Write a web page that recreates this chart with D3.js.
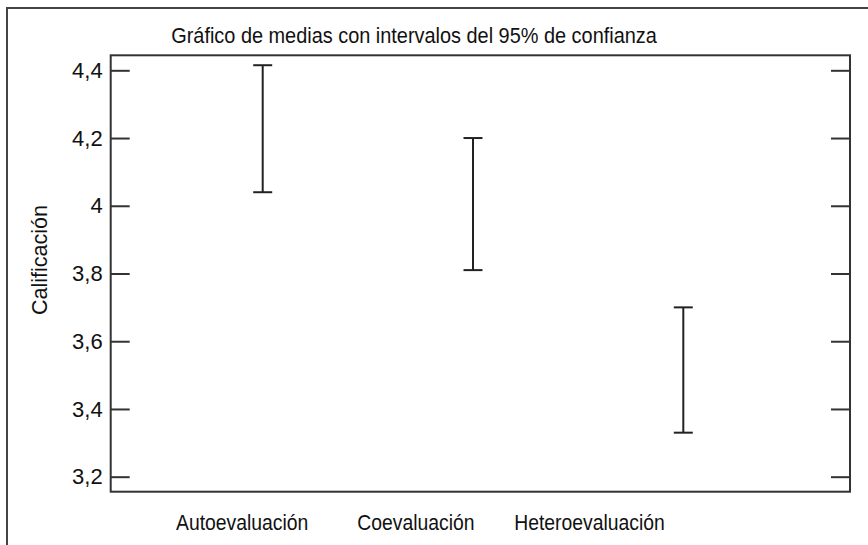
<!DOCTYPE html>
<html>
<head>
<meta charset="utf-8">
<script src="https://cdn.jsdelivr.net/npm/d3@7"></script>
<style>
  body { margin: 0; background: #fff; }
  svg text { font-family: "Liberation Sans", Arial, Helvetica, sans-serif; fill: #111; }
</style>
</head>
<body>
<svg id="chart"></svg>
<script>
// data
const categories = ["Autoevaluación", "Coevaluación", "Heteroevaluación"];
const upperValues = [4.415, 4.20, 3.70];
const lowerValues = [4.04, 3.81, 3.33];
const tickValues = [3.2, 3.4, 3.6, 3.8, 4.0, 4.2, 4.4];
const tickLabels = ["3,2", "3,4", "3,6", "3,8", "4", "4,2", "4,4"];

const width = 868;
const height = 545;
const box = { left: 110.7, right: 850, top: 55.3, bottom: 491.7 };
const fontSize = 22;

const svg = d3.select("#chart").attr("width", width).attr("height", height);

// outer frame (runs off the right and bottom edges)
svg.append("path")
  .attr("d", `M7,${height + 5}V8H${width + 5}`)
  .attr("fill", "none")
  .attr("stroke", "#444")
  .attr("stroke-width", 2);

const y = d3.scaleLinear()
  .domain([3.1557, 4.4443])
  .range([box.bottom, box.top]);

const x = d3.scalePoint()
  .domain(categories)
  .range([262.7, 683.3]);

// category labels sit left of the bars in the original
const xLabel = d3.scalePoint()
  .domain(categories)
  .range([241.7, 589]);

// title
svg.append("text")
  .attr("transform", "translate(414,42.5) scale(0.905,1)")
  .attr("text-anchor", "middle")
  .attr("font-size", fontSize)
  .text("Gráfico de medias con intervalos del 95% de confianza");

// y axis label
svg.append("text")
  .attr("transform", "translate(47,260) rotate(-90) scale(0.98,1)")
  .attr("text-anchor", "middle")
  .attr("font-size", fontSize)
  .text("Calificación");

// left axis
const leftAxis = svg.append("g")
  .attr("transform", `translate(${box.left},0)`)
  .call(d3.axisLeft(y)
    .tickValues(tickValues)
    .tickFormat((d, i) => tickLabels[i])
    .tickSize(-19)
    .tickPadding(8));
leftAxis.select(".domain").remove();
leftAxis.selectAll("line").attr("stroke", "#333").attr("stroke-width", 2);
leftAxis.selectAll("text")
  .attr("font-size", fontSize)
  .attr("font-family", null);

// right axis, ticks only
const rightAxis = svg.append("g")
  .attr("transform", `translate(${box.right},0)`)
  .call(d3.axisRight(y).tickValues(tickValues).tickFormat("").tickSize(-19));
rightAxis.select(".domain").remove();
rightAxis.selectAll("line").attr("stroke", "#333").attr("stroke-width", 2);

// bottom labels
const bottomAxis = svg.append("g")
  .attr("transform", `translate(0,${box.bottom})`)
  .call(d3.axisBottom(xLabel).tickSize(0).tickPadding(22.7));
bottomAxis.select(".domain").remove();
bottomAxis.selectAll("text")
  .attr("font-size", fontSize)
  .attr("font-family", null)
  .attr("transform", "scale(0.88,1)");

// plot box
svg.append("rect")
  .attr("x", box.left)
  .attr("y", box.top)
  .attr("width", box.right - box.left)
  .attr("height", box.bottom - box.top)
  .attr("fill", "none")
  .attr("stroke", "#333")
  .attr("stroke-width", 2);

// error bars
const capHalf = 9.5;
const bars = svg.append("g")
  .selectAll("g")
  .data(categories)
  .join("g")
  .attr("stroke", "#222")
  .attr("stroke-width", 2);

bars.append("line")
  .attr("x1", d => x(d)).attr("x2", d => x(d))
  .attr("y1", (d, i) => y(upperValues[i]))
  .attr("y2", (d, i) => y(lowerValues[i]));
bars.append("line")
  .attr("x1", d => x(d) - capHalf).attr("x2", d => x(d) + capHalf)
  .attr("y1", (d, i) => y(upperValues[i]))
  .attr("y2", (d, i) => y(upperValues[i]));
bars.append("line")
  .attr("x1", d => x(d) - capHalf).attr("x2", d => x(d) + capHalf)
  .attr("y1", (d, i) => y(lowerValues[i]))
  .attr("y2", (d, i) => y(lowerValues[i]));
</script>
</body>
</html>
